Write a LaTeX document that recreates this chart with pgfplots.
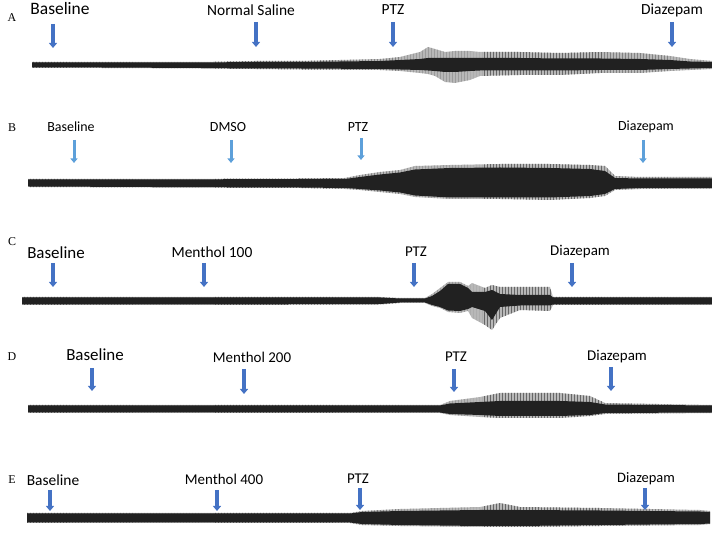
\documentclass[border=0pt]{standalone}
\usepackage{pgfplots}
\pgfplotsset{compat=1.18}
\usepackage{pgfplotstable}
\usepgfplotslibrary{fillbetween}
\usetikzlibrary{arrows.meta,patterns}
\usepackage{fontspec}
\setmainfont{Carlito}
\newfontfamily\letterfont{Liberation Serif}
\definecolor{arrblue}{RGB}{68,114,196}
\definecolor{arrlight}{RGB}{93,160,218}
\newcommand{\fs}[1]{\fontsize{#1}{#1}\selectfont}

% envelopes of each trace, in picture pixels (y grows downward)
% x, outer top/bottom (spikes), inner top/bottom (dense core)
\pgfplotstableread{
x   ot  ob  it    ib
32  62  68  62.5  67.5
100 62  68  62.5  67.5
200 62  68.5 62.5 68
255 61  69  62    68.5
300 61  69.5 62   68.5
380 59  70  61    69
400 57  71  60    69.5
420 52  73  59    70
428 47  74  58    70.5
435 49  76  58    71
445 52  82  58    72
455 51  83  58    72
470 51  80  58    71
480 52  76  58    70.5
520 52  75  58    70.5
560 53  75  58.5  70.5
600 52  73  58.5  70
640 53  73  59    70
670 56  71  60    69
690 59  70  61.5  68.5
712 61  69  62    68
}\trA
\pgfplotstableread{
x   ot  ob  it    ib
28  179 187 179.5 186.5
150 179 187.5 179.5 187
300 178.5 188 179 187.5
345 178 189 179   188
360 175 190 177   189
380 172 192 174.5 190.5
400 170 194 172.5 192.5
415 166 197 169.5 195.5
450 165 199 168   197.5
500 164 199 167.5 197.5
550 164 200 168   197.5
590 165 198 169   196
605 166 196 171   194
615 176 190 178   189
640 177 189 178.5 188
712 177 189 178.5 188
}\trB
\pgfplotstableread{
x   ot  ob  it    ib
22  297 305 297.5 304.5
200 297 305 297.5 304.5
380 297 304.5 297.5 304
400 298 303 298.5 302.5
425 298 303 298.5 302.5
432 294 306 296   305
440 288 308 291   307
448 282 312 284   310.5
460 282 313 284   311
468 286 311 288   309
472 283 318 292   307
485 288 325 292   311
492 285 330 290   320
500 287 318 294   307
520 287 310 295   305.5
550 287 311 295   305.5
553 297 305 297.5 304.5
712 297 305 297.5 304.5
}\trC
\pgfplotstableread{
x   ot  ob  it    ib
28  405 413 405.5 412.5
200 405 413 405.5 412.5
440 405 413 405.5 412.5
450 401 415 403.5 414
480 397 417 402   415
500 393 418 401   416
560 393 418 401   416
590 396 416 402   415
605 403 414 404.5 413
712 405 413 405.5 412.5
}\trD
\pgfplotstableread{
x   ot  ob  it    ib
27  513 523 513.5 522.5
350 513 523 513.5 522.5
362 511 525 512   524
400 509 526 511   525
480 507 527 510   526
500 503 527 510   526
520 507 527 510   526
600 508 526 510.5 525
700 510 525 511.5 524
710 511 524 512   523.5
}\trE

\newcommand{\eeg}[2]{%
  \addplot[draw=none, name path=#2ot] table[x=x,y=ot]{#1};
  \addplot[draw=none, name path=#2ob] table[x=x,y=ob]{#1};
  \addplot[draw=none, name path=#2it] table[x=x,y=it]{#1};
  \addplot[draw=none, name path=#2ib] table[x=x,y=ib]{#1};
  \addplot[draw=none, fill=black!28] fill between[of=#2ot and #2ob];
  \addplot[draw=none, pattern=vertical lines, pattern color=black!60] fill between[of=#2ot and #2ob];
  \addplot[draw=none, fill=black!87] fill between[of=#2it and #2ib];
}

\tikzset{
  arr/.style={draw=arrblue, line width=3.5bp, -{Triangle[width=8bp,length=5bp]}},
  arrl/.style={draw=arrlight, line width=3bp, -{Triangle[width=7bp,length=4.5bp]}},
  lt/.style={font=\letterfont\fs{12}},
}

\begin{document}
\begin{tikzpicture}
\begin{axis}[
  at={(0,0)}, anchor=south west,
  scale only axis, width=712bp, height=535bp,
  xmin=0, xmax=712, ymin=0, ymax=535, y dir=reverse,
  hide axis, clip=false,
]
\eeg{\trA}{a}
\eeg{\trB}{b}
\eeg{\trC}{c}
\eeg{\trD}{d}
\eeg{\trE}{e}

% panel A
\node[lt] at (12,18) {A};
\node[font=\fs{17.5}] at (60,9) {Baseline};
\node[font=\fs{15.5}] at (251,10) {Normal Saline};
\node[font=\fs{15.5}] at (393,10) {PTZ};
\node[font=\fs{15.5}] at (672,10) {Diazepam};
\draw[arr] (53,24) -- (53,48);
\draw[arr] (256,22) -- (256,47);
\draw[arr] (393,22) -- (393,47);
\draw[arr] (672,22) -- (672,47);

% panel B
\node[lt] at (12,128) {B};
\node[font=\fs{14}] at (71,127) {Baseline};
\node[font=\fs{14}] at (228,127) {DMSO};
\node[font=\fs{14}] at (358,127) {PTZ};
\node[font=\fs{14}] at (646,127) {Diazepam};
\draw[arrl] (74,140) -- (74,163);
\draw[arrl] (231,140) -- (231,163);
\draw[arrl] (361,138) -- (361,160);
\draw[arrl] (643,140) -- (643,163);

% panel C
\node[lt] at (12,242) {C};
\node[font=\fs{17}] at (56,253) {Baseline};
\node[font=\fs{15.5}] at (212,252) {Menthol 100};
\node[font=\fs{15}] at (416,252) {PTZ};
\node[font=\fs{15}] at (580,252) {Diazepam};
\draw[arr] (53,263) -- (53,287);
\draw[arr] (204,263) -- (204,287);
\draw[arr] (414,263) -- (414,287);
\draw[arr] (572,263) -- (572,287);

% panel D
\node[lt] at (12,357) {D};
\node[font=\fs{17}] at (95,355) {Baseline};
\node[font=\fs{15}] at (252,357) {Menthol 200};
\node[font=\fs{15}] at (456,357) {PTZ};
\node[font=\fs{15}] at (617,357) {Diazepam};
\draw[arr] (92,368) -- (92,391);
\draw[arr] (244,369) -- (244,394);
\draw[arr] (454,369) -- (454,392);
\draw[arr] (611,367) -- (611,391);

% panel E
\node[lt] at (12,480) {E};
\node[font=\fs{15.5}] at (53,480) {Baseline};
\node[font=\fs{15}] at (224,479) {Menthol 400};
\node[font=\fs{15}] at (358,479) {PTZ};
\node[font=\fs{14.5}] at (646,479) {Diazepam};
\draw[arr] (50,490) -- (50,511);
\draw[arr] (217,490) -- (217,511);
\draw[arr] (360,488) -- (360,510);
\draw[arr] (645,488) -- (645,510);
\end{axis}
\pgfresetboundingbox
\path (0,0) rectangle (712bp,535bp);
\end{tikzpicture}
\end{document}
